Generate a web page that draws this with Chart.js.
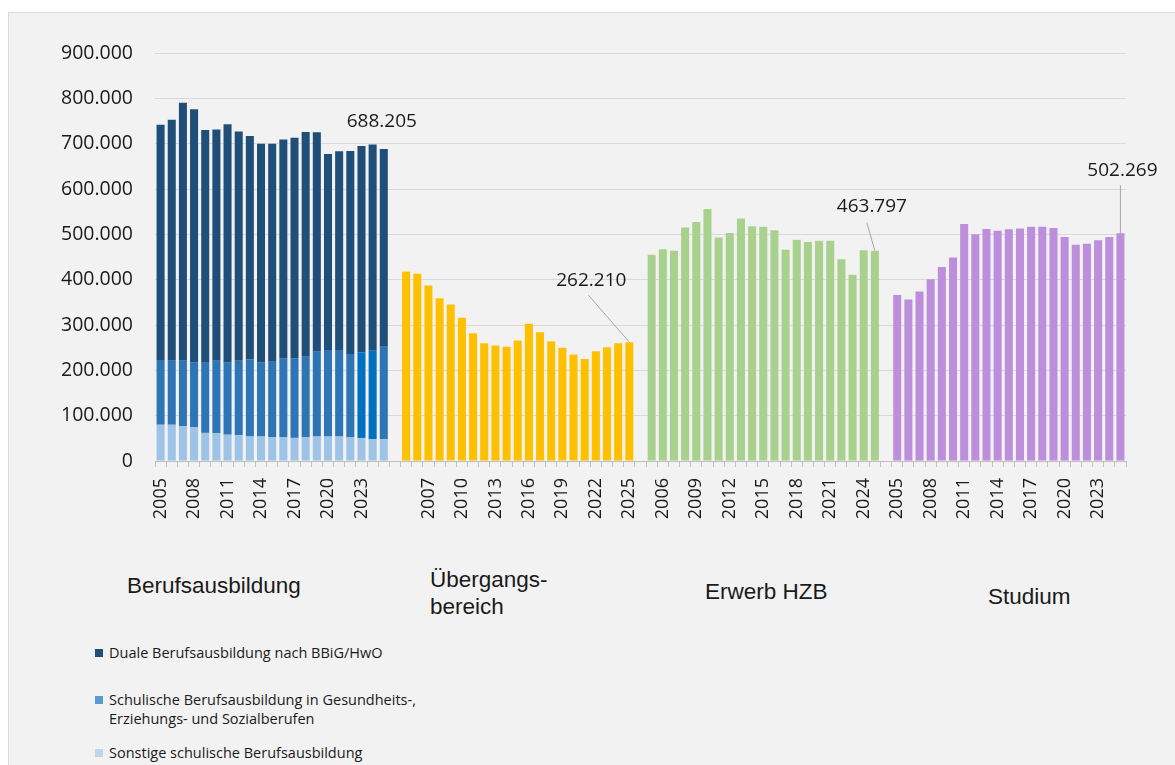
<!DOCTYPE html>
<html lang="de">
<head>
<meta charset="utf-8">
<title>Neuzugänge Berufsausbildung, Übergangsbereich, Erwerb HZB, Studium</title>
<script src="https://cdn.jsdelivr.net/npm/chart.js@4"></script>
<style>
  html, body { margin: 0; padding: 0; background: #fff; }
  body { width: 1175px; height: 765px; overflow: hidden; position: relative; font-family: "Liberation Sans", Arial, sans-serif; }
  .frame { position: absolute; left: 8px; top: 12px; width: 1180px; height: 770px; background: #f2f2f2; border: 1px solid #d9d9d9; }
  .chart-box { position: absolute; left: 0; top: 0; width: 1175px; height: 540px; }
  .sector { position: absolute; font-size: 22.5px; line-height: 27px; color: #1a1a1a; }
  .legend-item { position: absolute; left: 95px; font-family: "Open Sans", sans-serif; font-size: 14.5px; line-height: 19px; color: #1a1a1a; padding-left: 14px; }
  .legend-item i { position: absolute; left: 0; top: 6px; width: 8px; height: 8px; }
</style>
</head>
<body>
<div class="frame"></div>
<div class="chart-box"><canvas id="chart"></canvas></div>

<div class="sector" style="left:127px; top:572px;">Berufsausbildung</div>
<div class="sector" style="left:430px; top:566px;">Übergangs-<br>bereich</div>
<div class="sector" style="left:705px; top:578px;">Erwerb HZB</div>
<div class="sector" style="left:988px; top:583px;">Studium</div>

<div id="legend"></div>

<script>
// categories (one block of years per sector)
const YEARS = ['2005', '2006', '2007', '2008', '2009', '2010', '2011', '2012', '2013', '2014',
  '2015', '2016', '2017', '2018', '2019', '2020', '2021', '2022', '2023', '2024', '2025'];

const SECTORS = ['Berufsausbildung', 'Übergangsbereich', 'Erwerb HZB', 'Studium'];

// Berufsausbildung, stacked parts
const SONSTIGE_SCHULISCH = [80000, 80000, 77000, 75000, 62000, 61000, 58000, 57000, 54000, 54000,
  53000, 53000, 51000, 53000, 54000, 54000, 54000, 52000, 51000, 48000, 48000];
const SCHULISCH_GES = [143000, 141000, 144000, 143000, 155000, 160000, 160000, 164000, 170000, 164000,
  166000, 174000, 176000, 177000, 187000, 191000, 191000, 184000, 189000, 195000, 204000];
const DUALE = [519000, 532000, 569000, 558000, 513000, 510000, 525000, 506000, 493000, 482000,
  481000, 482000, 486000, 496000, 484000, 432000, 438000, 448000, 455000, 455000, 436205];

// other sectors
const UEBERGANG = [418000, 413000, 387000, 359000, 345000, 316000, 282000, 260000, 255000, 252000,
  266000, 303000, 284000, 264000, 250000, 235000, 225000, 242000, 251000, 260000, 262210];
const ERWERB_HZB = [455000, 467000, 464000, 515000, 527000, 556000, 493000, 503000, 535000, 518000,
  517000, 509000, 466000, 488000, 483000, 486000, 486000, 445000, 411000, 465000, 463797];
const STUDIUM = [366000, 356000, 374000, 401000, 428000, 449000, 523000, 500000, 512000, 508000,
  511000, 513000, 517000, 517000, 514000, 494000, 477000, 479000, 487000, 494000, 502269];

const Y_TICKS = [0, 100000, 200000, 300000, 400000, 500000, 600000, 700000, 800000, 900000];

// layout of the category axis: one empty slot between sectors
const STEP = YEARS.length + 1;
const N = SECTORS.length * STEP - 1;
const labels = [];
SECTORS.forEach((s, g) => {
  YEARS.forEach(y => labels.push(y));
  if (g < SECTORS.length - 1) labels.push('');
});

function spread(group, values) {
  const arr = new Array(N).fill(null);
  values.forEach((v, i) => { arr[group * STEP + i] = v; });
  return arr;
}

function fmt(v) {
  return String(Math.round(v)).replace(/\B(?=(\d{3})+(?!\d))/g, '.');
}

const lastIdx = YEARS.length - 1;
const totalBA = SONSTIGE_SCHULISCH[lastIdx] + SCHULISCH_GES[lastIdx] + DUALE[lastIdx];

const datasets = [
  { label: 'Sonstige schulische Berufsausbildung', data: spread(0, SONSTIGE_SCHULISCH), backgroundColor: '#9DC3E6', legendColor: '#BDD7EE' },
  { label: 'Schulische Berufsausbildung in Gesundheits-, Erziehungs- und Sozialberufen', data: spread(0, SCHULISCH_GES),
    backgroundColor: ctx => (ctx.dataIndex === 18 || ctx.dataIndex === 19) ? '#0070C0' : '#2E75B6', legendColor: '#5B9BD5' },
  { label: 'Duale Berufsausbildung nach BBiG/HwO', data: spread(0, DUALE), backgroundColor: '#1F4E79', legendColor: '#1F4E79' },
  { label: 'Übergangsbereich', data: spread(1, UEBERGANG), backgroundColor: '#FFC000' },
  { label: 'Erwerb HZB', data: spread(2, ERWERB_HZB), backgroundColor: '#A9D18E' },
  { label: 'Studium', data: spread(3, STUDIUM), backgroundColor: '#BC8EDB' }
];

// value callouts at the last bar of each sector
const CALLOUTS = [
  { ds: 2, idx: 0 * STEP + lastIdx, text: fmt(totalBA), dx: -2, dy: -27 },
  { ds: 3, idx: 1 * STEP + lastIdx, text: fmt(UEBERGANG[lastIdx]), dx: -38, dy: -62, lx: -41, ly: -47 },
  { ds: 4, idx: 2 * STEP + lastIdx, text: fmt(ERWERB_HZB[lastIdx]), dx: -3, dy: -44, lx: -8, ly: -28 },
  { ds: 5, idx: 3 * STEP + lastIdx, text: fmt(STUDIUM[lastIdx]), dx: 2, dy: -63, lx: 0, ly: -48 }
];

const calloutPlugin = {
  id: 'callouts',
  afterDatasetsDraw(chart) {
    const ctx = chart.ctx;
    ctx.save();
    CALLOUTS.forEach(c => {
      const el = chart.getDatasetMeta(c.ds).data[c.idx];
      if (!el) return;
      if (c.lx !== undefined) {
        ctx.strokeStyle = '#a6a6a6';
        ctx.lineWidth = 1;
        ctx.beginPath();
        ctx.moveTo(el.x + c.lx, el.y + c.ly);
        ctx.lineTo(el.x, el.y);
        ctx.stroke();
      }
      ctx.fillStyle = '#1a1a1a';
      ctx.font = '19px "Open Sans", sans-serif';
      ctx.textAlign = 'center';
      ctx.textBaseline = 'middle';
      ctx.fillText(c.text, el.x + c.dx, el.y + c.dy);
    });
    ctx.restore();
  }
};

new Chart(document.getElementById('chart'), {
  type: 'bar',
  data: { labels: labels, datasets: datasets },
  options: {
    responsive: true,
    maintainAspectRatio: false,
    animation: false,
    layout: { padding: { left: 0, top: 53, right: 49, bottom: 0 } },
    datasets: { bar: { barPercentage: 0.72, categoryPercentage: 1, borderWidth: 0 } },
    plugins: { legend: { display: false }, tooltip: { enabled: false } },
    scales: {
      x: {
        stacked: true,
        afterFit: s => { s.height = 79; },
        grid: { display: true, drawOnChartArea: false, drawTicks: true, tickLength: 6, color: '#bfbfbf', offset: true },
        border: { display: true, color: '#bfbfbf' },
        ticks: {
          autoSkip: false, maxRotation: 90, minRotation: 90, padding: 11,
          color: '#1a1a1a', font: { family: 'Open Sans', size: 18 },
          callback: function (v, i) { return i % 3 === 0 ? this.getLabelForValue(v) : ''; }
        }
      },
      y: {
        stacked: true,
        min: 0, max: 900000,
        afterFit: s => { s.width = 155; },
        afterBuildTicks: s => { s.ticks = Y_TICKS.map(v => ({ value: v })); },
        grid: { color: '#d9d9d9', drawTicks: false },
        border: { display: false },
        ticks: { padding: 22, color: '#1a1a1a', font: { family: 'Open Sans', size: 19.5 }, callback: v => fmt(v) }
      }
    }
  },
  plugins: [calloutPlugin]
});

// legend (order as in the reference)
const legendRows = [
  { ds: 2, top: 643 },
  { ds: 1, top: 690 },
  { ds: 0, top: 743 }
];
const legendEl = document.getElementById('legend');
legendRows.forEach(r => {
  const d = datasets[r.ds];
  const div = document.createElement('div');
  div.className = 'legend-item';
  div.style.top = r.top + 'px';
  let text = d.label;
  if (r.ds === 1) text = 'Schulische Berufsausbildung in Gesundheits-,<br>Erziehungs- und Sozialberufen';
  div.innerHTML = '<i style="background:' + d.legendColor + '"></i>' + text;
  legendEl.appendChild(div);
});
</script>
</body>
</html>
